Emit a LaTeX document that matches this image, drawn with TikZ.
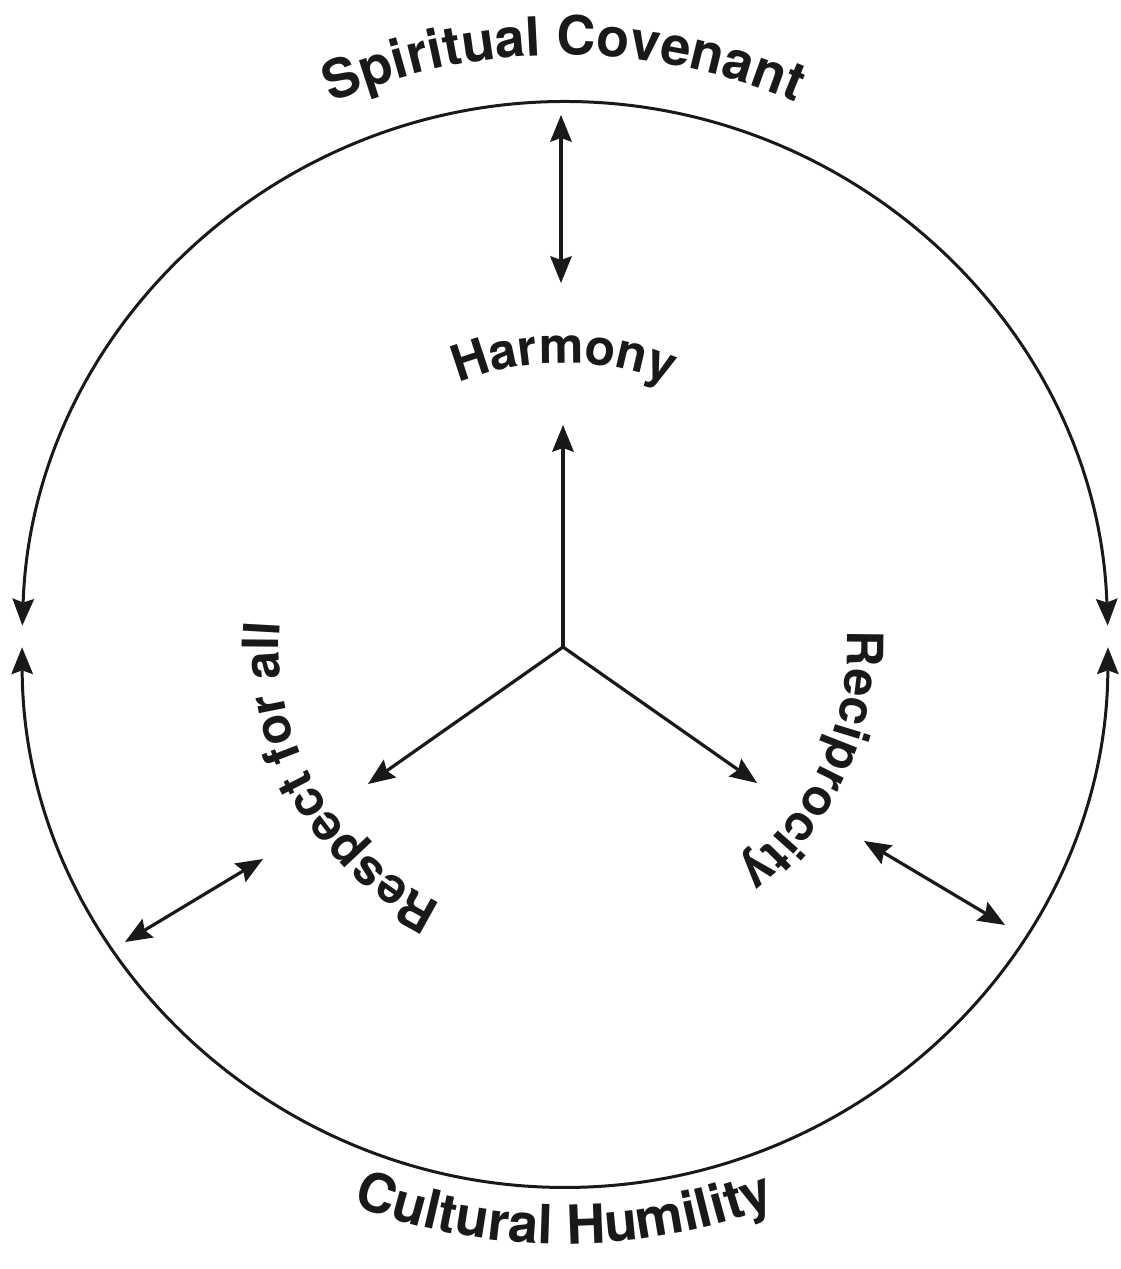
\documentclass[tikz,border=0pt]{standalone}
\usepackage{fontspec}
\setmainfont{TeX Gyre Heros}
\usetikzlibrary{arrows.meta,decorations.text}
\definecolor{ink}{RGB}{25,25,25}
\tikzset{
  headtip/.tip={Stealth[length=27pt,width=22pt,inset=4pt,line width=0pt]},
  one/.style={-headtip},
  both/.style={headtip-headtip},
  conn/.style={line width=3.2pt, draw=ink},
  ring/.style={line width=3pt, draw=ink},
  arctext/.style={decorate, decoration={text along path, text align=center, text color=ink, text={#1}}},
}
\newcommand{\bigfont}{\bfseries\fontsize{54}{60}\selectfont}
\newcommand{\midfont}{\bfseries\fontsize{50}{56}\selectfont}
\begin{document}
\begin{tikzpicture}[x=1pt,y=1pt]
\useasboundingbox (0,0) rectangle (1121,1269);
% centres
\coordinate (C) at (565,624.5);
\coordinate (T) at (564,623);
% outer ring as two arcs with arrow tips
\draw[ring,both] (C) ++(178:543) arc[start angle=178, end angle=2, radius=543];
\draw[ring,both] (C) ++(180.3:543) arc[start angle=180.3, end angle=359.7, radius=543];
% inner tri-arrow
\coordinate (O) at (563,622);
\coordinate (Hup) at (563,844);
\coordinate (Lt) at (368,485);
\coordinate (Rt) at (757,486);
\draw[conn,one] (O) -- (Hup);
\draw[conn,one] (O) -- (Lt);
\draw[conn,one] (O) -- (Rt);
% double arrows
\coordinate (a1) at (561,1154);
\coordinate (a2) at (561,986);
\coordinate (b1) at (125,327);
\coordinate (b2) at (263,410);
\coordinate (c1) at (864,428);
\coordinate (c2) at (1005,344);
\draw[conn,both] (a1) -- (a2);
\draw[conn,both] (b1) -- (b2);
\draw[conn,both] (c1) -- (c2);
% curved texts
\path[arctext={|\bigfont|Spiritual Covenant}] (T) ++(125:591) arc[start angle=125, end angle=55, radius=591];
\path[arctext={|\bigfont|Cultural Humility}] (T) ++(240:598) arc[start angle=240, end angle=300, radius=598];
\path[arctext={|\midfont|Harmony}] (T) ++(125:283) arc[start angle=125, end angle=55, radius=283];
\path[arctext={|\midfont|Respect for all}] (T) ++(265:285) arc[start angle=265, end angle=155, radius=285];
\path[arctext={|\midfont|Reciprocity}] (T) ++(20.5:283) arc[start angle=20.5, end angle=-69.5, radius=283];
\end{tikzpicture}
\end{document}
